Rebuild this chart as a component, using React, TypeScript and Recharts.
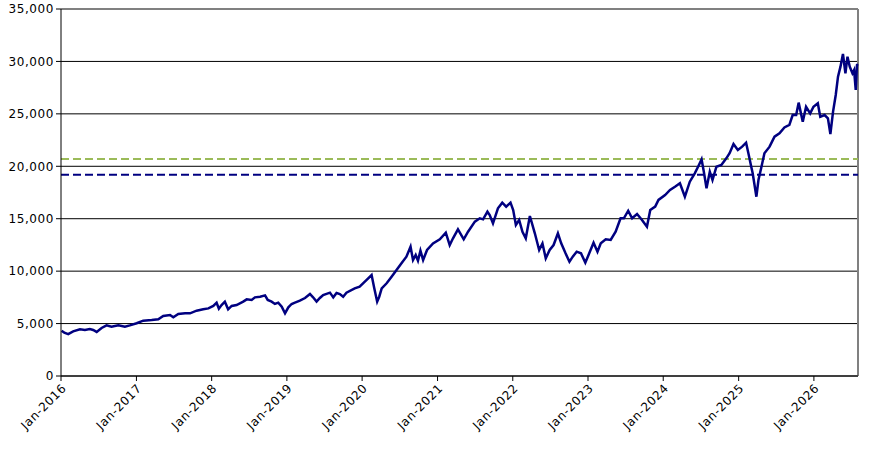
import { LineChart, Line, XAxis, YAxis, CartesianGrid, ReferenceLine } from "recharts";

// readings (approximate)
const dates = [
	"2016-01-04", "2016-01-17", "2016-02-05", "2016-02-29", "2016-04-02", "2016-04-26", "2016-05-20", "2016-06-05", "2016-06-22",
	"2016-07-16", "2016-08-09", "2016-09-02", "2016-10-05", "2016-11-06", "2016-11-30",
	"2017-01-02", "2017-02-03", "2017-03-16", "2017-04-17", "2017-05-11", "2017-06-13", "2017-06-29", "2017-07-23", "2017-08-25",
	"2017-09-18", "2017-10-20", "2017-11-21", "2017-12-16",
	"2018-01-09", "2018-01-25", "2018-02-05", "2018-02-18", "2018-03-06", "2018-03-22", "2018-04-08", "2018-05-02", "2018-06-03",
	"2018-06-20", "2018-07-14", "2018-07-30", "2018-08-24", "2018-09-17", "2018-09-30", "2018-10-19", "2018-11-04", "2018-11-20",
	"2018-12-07", "2018-12-23",
	"2019-01-08", "2019-01-24", "2019-02-09", "2019-03-05", "2019-03-30", "2019-04-23", "2019-05-07", "2019-05-25", "2019-06-10",
	"2019-06-26", "2019-07-29", "2019-08-14", "2019-08-30", "2019-09-15", "2019-10-01", "2019-10-17", "2019-11-26", "2019-12-20",
	"2020-01-23", "2020-02-16", "2020-02-29", "2020-03-14", "2020-03-24", "2020-04-05", "2020-04-29", "2020-05-23", "2020-06-16",
	"2020-07-10", "2020-08-03", "2020-08-23", "2020-09-04", "2020-09-17", "2020-09-28", "2020-10-10", "2020-10-23", "2020-11-11",
	"2020-12-10",
	"2021-01-12", "2021-02-10", "2021-03-01", "2021-03-17", "2021-04-10", "2021-05-08", "2021-05-29", "2021-07-01", "2021-07-25",
	"2021-08-10", "2021-08-31", "2021-09-11", "2021-09-27", "2021-10-21", "2021-11-11", "2021-11-30", "2021-12-21",
	"2022-01-03", "2022-01-16", "2022-02-01", "2022-02-17", "2022-03-05", "2022-03-25", "2022-04-18", "2022-05-09", "2022-05-25",
	"2022-06-10", "2022-06-29", "2022-07-18", "2022-08-08", "2022-08-24", "2022-09-14", "2022-10-03", "2022-10-19", "2022-11-07",
	"2022-11-28", "2022-12-19",
	"2023-01-07", "2023-01-28", "2023-02-16", "2023-03-04", "2023-03-28", "2023-04-21", "2023-05-15", "2023-06-08", "2023-06-24",
	"2023-07-15", "2023-08-03", "2023-08-27", "2023-09-20", "2023-10-14", "2023-10-30", "2023-11-23", "2023-12-09",
	"2024-01-10", "2024-02-03", "2024-02-27", "2024-03-22", "2024-04-15", "2024-05-09", "2024-06-02", "2024-06-18", "2024-07-05",
	"2024-07-16", "2024-07-29", "2024-08-14", "2024-08-27", "2024-09-15", "2024-10-09", "2024-11-02", "2024-11-18", "2024-12-07",
	"2024-12-28",
	"2025-01-18", "2025-02-06", "2025-02-19", "2025-03-03", "2025-03-10", "2025-03-28", "2025-04-07", "2025-04-20", "2025-05-06",
	"2025-05-31", "2025-06-24", "2025-07-18", "2025-08-11", "2025-09-04", "2025-09-20", "2025-10-07", "2025-10-19", "2025-11-08",
	"2025-11-24", "2025-12-14", "2025-12-30",
	"2026-01-20", "2026-02-01", "2026-02-22", "2026-03-10", "2026-03-22", "2026-04-04", "2026-04-17", "2026-04-28", "2026-05-10",
	"2026-05-22", "2026-06-03", "2026-06-13", "2026-06-24", "2026-07-07", "2026-07-15", "2026-07-23", "2026-07-29", "2026-08-03",
];

const values = [
	4320, 4130, 4000, 4260, 4450, 4390, 4480, 4390, 4200,
	4580, 4830, 4700, 4830, 4700, 4830,
	5030, 5280, 5340, 5410, 5720, 5820, 5600, 5910, 5980,
	5980, 6230, 6360, 6450,
	6680, 6990, 6420, 6770, 7090, 6360, 6680, 6770, 7090,
	7310, 7250, 7500, 7560, 7690, 7250, 7090, 6870, 6990,
	6610, 5980,
	6550, 6870, 6990, 7180, 7440, 7820, 7530, 7090, 7440,
	7720, 7950, 7500, 7920, 7820, 7560, 7950, 8360, 8520,
	9160, 9630, 8360, 7090, 7560, 8360, 8840, 9470, 10110,
	10750, 11380, 12330, 11060, 11540, 11000, 11950, 11060, 12020,
	12650,
	13040, 13670, 12490, 13130, 13990, 13040, 13760, 14720, 15040,
	14940, 15670, 15350, 14560, 15990, 16530, 16150, 16530,
	15830, 14400, 14880, 13760, 13130, 15260, 13610, 12020, 12650,
	11220, 12020, 12490, 13610, 12650, 11700, 10900, 11380, 11860,
	11700, 10810,
	11700, 12710, 11860, 12650, 13040, 12970, 13760, 15040, 15040,
	15760, 15040, 15450, 14880, 14240, 15830, 16150, 16790,
	17260, 17740, 18050, 18380, 17100, 18530, 19330, 19960, 20660,
	19480, 17900, 19480, 18690, 19960, 20120, 20760, 21240, 22130,
	21550,
	21870, 22250, 21080, 19960, 19330, 17100, 18690, 19810, 21240,
	21870, 22820, 23150, 23710, 23940, 24890, 24890, 26070, 24250,
	25680, 25050, 25680,
	26010, 24730, 24890, 24570, 23080, 25210, 26800, 28550, 29500,
	30710, 28870, 30450, 29500, 28870, 29180, 27280, 29660, 29750,
];

const yTicks = [0, 5000, 10000, 15000, 20000, 25000, 30000, 35000];
const tickYears = [2016, 2017, 2018, 2019, 2020, 2021, 2022, 2023, 2024, 2025, 2026];

const greenLevel = 20700;
const blueLevel = 19200;

const data = dates.map((d, i) => ({ t: Date.parse(d), v: values[i] }));
const xStart = Date.UTC(2016, 0, 1);
const xEnd = Date.UTC(2026, 7, 3);
const xTicks = tickYears.map((y) => Date.UTC(y, 0, 1));

const font = { fontSize: 12, fontFamily: "DejaVu Sans", fill: "#000", letterSpacing: 0.6 };

export default function App() {
	return (
		<div style={{ position: "absolute", left: 0, top: 0, background: "#fff" }}>
			<LineChart width={883} height={449} data={data} margin={{ top: 9, right: 25, bottom: 0, left: 0 }}>
				<CartesianGrid vertical={false} stroke="#000" strokeWidth={1} />
				<XAxis
					dataKey="t"
					type="number"
					scale="time"
					domain={[xStart, xEnd]}
					ticks={xTicks}
					tickFormatter={(t: number) => "Jan-" + new Date(t).getUTCFullYear()}
					tick={{ ...font, angle: -45, textAnchor: "end" }}
					axisLine={{ stroke: "#000" }}
					tickLine={{ stroke: "#000" }}
					tickSize={5}
					height={73}
					interval={0}
				/>
				<YAxis
					domain={[0, 35000]}
					ticks={yTicks}
					tickFormatter={(v: number) => v.toLocaleString("en-US")}
					tick={font}
					axisLine={{ stroke: "#000" }}
					tickLine={{ stroke: "#000" }}
					tickSize={5}
					width={61}
					interval={0}
				/>
				<ReferenceLine y={35000} stroke="#808080" strokeWidth={1.5} />
				<ReferenceLine x={xEnd} stroke="#808080" strokeWidth={2} />
				<ReferenceLine y={greenLevel} stroke="#9BBB59" strokeWidth={2} strokeDasharray="8 4" />
				<ReferenceLine y={blueLevel} stroke="#000080" strokeWidth={2} strokeDasharray="8 4" />
				<Line
					type="linear"
					dataKey="v"
					stroke="#000080"
					strokeWidth={2.5}
					dot={false}
					isAnimationActive={false}
				/>
			</LineChart>
		</div>
	);
}
